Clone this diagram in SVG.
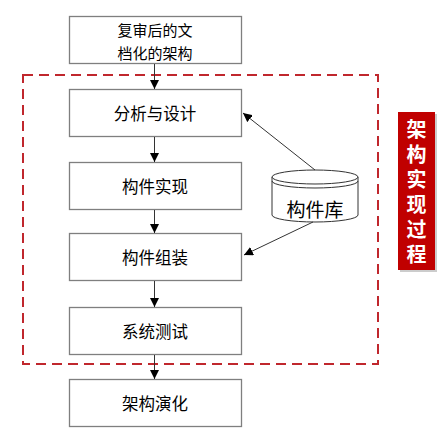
<svg xmlns="http://www.w3.org/2000/svg" width="439" height="443" viewBox="0 0 439 443">
<defs>
<marker id="ah" viewBox="0 0 10 10" refX="10" refY="5" markerWidth="9" markerHeight="9" markerUnits="userSpaceOnUse" orient="auto"><path d="M0,0 L10,5 L0,10 Z" fill="#000"/></marker>
<style>
.box{fill:#fff;stroke:#7f7f7f;stroke-width:1.3}
.t{font-family:"Noto Sans CJK SC","Liberation Sans",sans-serif;font-size:16.5px;fill:#000;text-anchor:middle;dominant-baseline:central}
.c{stroke:#333;stroke-width:1;fill:none;marker-end:url(#ah)}
.lab{font-family:"Noto Sans CJK SC",sans-serif;font-size:20px;font-weight:bold;fill:#fff;writing-mode:vertical-rl;letter-spacing:5px}
</style>
</defs>
<rect x="23" y="75" width="355" height="289" fill="none" stroke="#c0272d" stroke-width="2" stroke-dasharray="10,6"/>
<g id="n1"><rect class="box" x="69.5" y="16.5" width="172" height="47"/><text class="t" x="155" y="29.5" style="font-size:15px">复审后的文<tspan x="155" dy="22">档化的架构</tspan></text></g>
<g id="n2"><rect class="box" x="69.5" y="89.5" width="172" height="47"/><text class="t" x="155" y="113">分析与设计</text></g>
<g id="n3"><rect class="box" x="69.5" y="162.5" width="172" height="47"/><text class="t" x="155" y="186">构件实现</text></g>
<g id="n4"><rect class="box" x="69.5" y="233.5" width="172" height="47"/><text class="t" x="155" y="257">构件组装</text></g>
<g id="n5"><rect class="box" x="69.5" y="307.5" width="172" height="47"/><text class="t" x="155" y="331">系统测试</text></g>
<g id="n6"><rect class="box" x="69.5" y="379.5" width="172" height="47"/><text class="t" x="155" y="403">架构演化</text></g>
<g id="lib">
<path d="M272,177 L272,215 A43,7 0 0 0 358,215 L358,177" fill="#fff" stroke="#333" stroke-width="1"/>
<ellipse cx="315" cy="177" rx="43" ry="7" fill="#fff" stroke="#333" stroke-width="1"/>
<path d="M272,181 A43,7 0 0 0 358,181" fill="none" stroke="#333" stroke-width="1"/>
<text class="t" x="315" y="208" style="font-size:19px">构件库</text>
</g>
<g id="label">
<rect x="400" y="114" width="37" height="158" fill="#999" opacity="0.5"/>
<rect x="398" y="112" width="37" height="158" fill="#c00000"/>
<text class="lab" x="416.5" y="119">架构实现过程</text>
</g>
<g id="connectors">
<line class="c" x1="154.5" y1="64" x2="154.5" y2="89"/>
<line class="c" x1="154.5" y1="137" x2="154.5" y2="162"/>
<line class="c" x1="154.5" y1="210" x2="154.5" y2="233"/>
<line class="c" x1="154.5" y1="281" x2="154.5" y2="307"/>
<line class="c" x1="154.5" y1="355" x2="154.5" y2="379"/>
<line class="c" x1="315" y1="170" x2="243" y2="113"/>
<line class="c" x1="313" y1="222" x2="244" y2="255"/>
</g>
</svg>
